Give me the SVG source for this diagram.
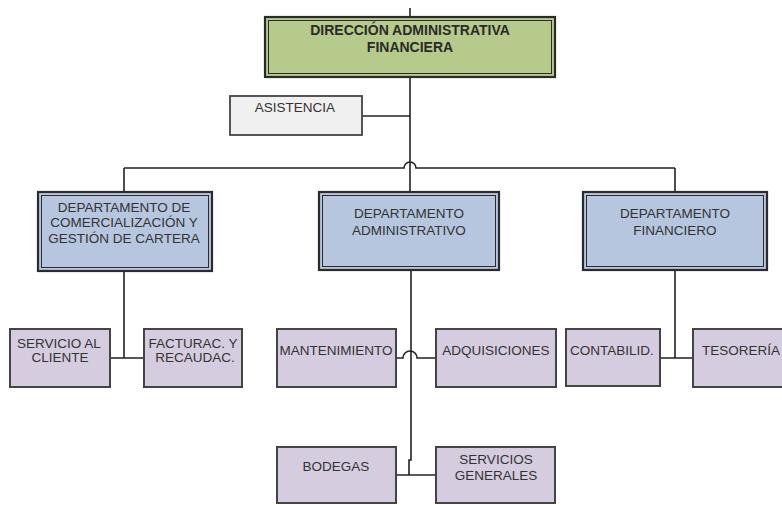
<svg xmlns="http://www.w3.org/2000/svg" width="782" height="505" viewBox="0 0 782 505">
<style>
text{font-family:"Liberation Sans",Arial,sans-serif;font-size:13.5px;fill:#333;text-anchor:middle}
.b{font-weight:bold;font-size:14px;fill:#2a2a2a}
.out{stroke:#2b2b2b;stroke-width:2.2}
.in{fill:none;stroke:#2b2b2b;stroke-width:1}
.dept{fill:#b5c6de}
.sub{fill:#d6cce0;stroke:#444;stroke-width:2}
.conn{fill:none;stroke:#222;stroke-width:1.6}
</style>
<rect width="782" height="505" fill="#fff"/>
<g id="connectors">
<path class="conn" d="M410,8 V17 M410,77 V192"/>
<path class="conn" d="M362,116 H410"/>
<path class="conn" d="M124,168 H404 a6,6 0 0 1 12,0 H675"/>
<path class="conn" d="M124,168 V192 M675,168 V192"/>
<path class="conn" d="M124,271 V358 M110,358 H144"/>
<path class="conn" d="M411,270 V460 H409 V475"/>
<path class="conn" d="M396,358 H403 a7,7 0 0 1 14,0 H436"/>
<path class="conn" d="M396,475 H436"/>
<path class="conn" d="M675,270 V358 M660,358 H693"/>
</g>
<g id="direccion">
<rect x="265" y="17" width="290" height="60" fill="#b6ca8b" class="out"/>
<rect x="268.5" y="20.5" width="283" height="53" class="in"/>
<text class="b" x="410" y="35">DIRECCIÓN ADMINISTRATIVA</text>
<text class="b" x="410" y="52">FINANCIERA</text>
</g>
<g id="asistencia">
<rect x="230" y="96" width="132" height="39" fill="#f0f0f0" stroke="#444" stroke-width="1.8"/>
<text x="295" y="112">ASISTENCIA</text>
</g>
<g id="dep-comercializacion">
<rect x="38" y="192" width="174" height="79" class="dept out"/>
<rect x="41.5" y="195.5" width="167" height="72" class="in"/>
<text x="124" y="212">DEPARTAMENTO DE</text>
<text x="124" y="227">COMERCIALIZACIÓN Y</text>
<text x="124" y="243">GESTIÓN DE CARTERA</text>
</g>
<g id="dep-administrativo">
<rect x="319" y="192" width="180" height="78" class="dept out"/>
<rect x="322.5" y="195.5" width="173" height="71" class="in"/>
<text x="409" y="218">DEPARTAMENTO</text>
<text x="409" y="235">ADMINISTRATIVO</text>
</g>
<g id="dep-financiero">
<rect x="583" y="192" width="184" height="78" class="dept out"/>
<rect x="586.5" y="195.5" width="177" height="71" class="in"/>
<text x="675" y="218">DEPARTAMENTO</text>
<text x="675" y="235">FINANCIERO</text>
</g>
<g id="servicio-cliente">
<rect x="10" y="329" width="100" height="58" class="sub"/>
<text x="59" y="348">SERVICIO AL</text>
<text x="60" y="362">CLIENTE</text>
</g>
<g id="facturacion">
<rect x="144" y="329" width="98" height="58" class="sub"/>
<text x="193" y="348">FACTURAC. Y</text>
<text x="195" y="362">RECAUDAC.</text>
</g>
<g id="mantenimiento">
<rect x="277" y="329" width="119" height="58" class="sub"/>
<text x="336" y="355">MANTENIMIENTO</text>
</g>
<g id="adquisiciones">
<rect x="436" y="329" width="120" height="58" class="sub"/>
<text x="496" y="355">ADQUISICIONES</text>
</g>
<g id="contabilidad">
<rect x="566" y="329" width="94" height="57" class="sub"/>
<text x="612" y="355">CONTABILID.</text>
</g>
<g id="tesoreria">
<rect x="693" y="329" width="100" height="58" class="sub"/>
<text x="741" y="355">TESORERÍA</text>
</g>
<g id="bodegas">
<rect x="277" y="447" width="119" height="56" class="sub"/>
<text x="336" y="471">BODEGAS</text>
</g>
<g id="servicios-generales">
<rect x="436" y="447" width="119" height="56" class="sub"/>
<text x="496" y="464">SERVICIOS</text>
<text x="496" y="480">GENERALES</text>
</g>
</svg>
